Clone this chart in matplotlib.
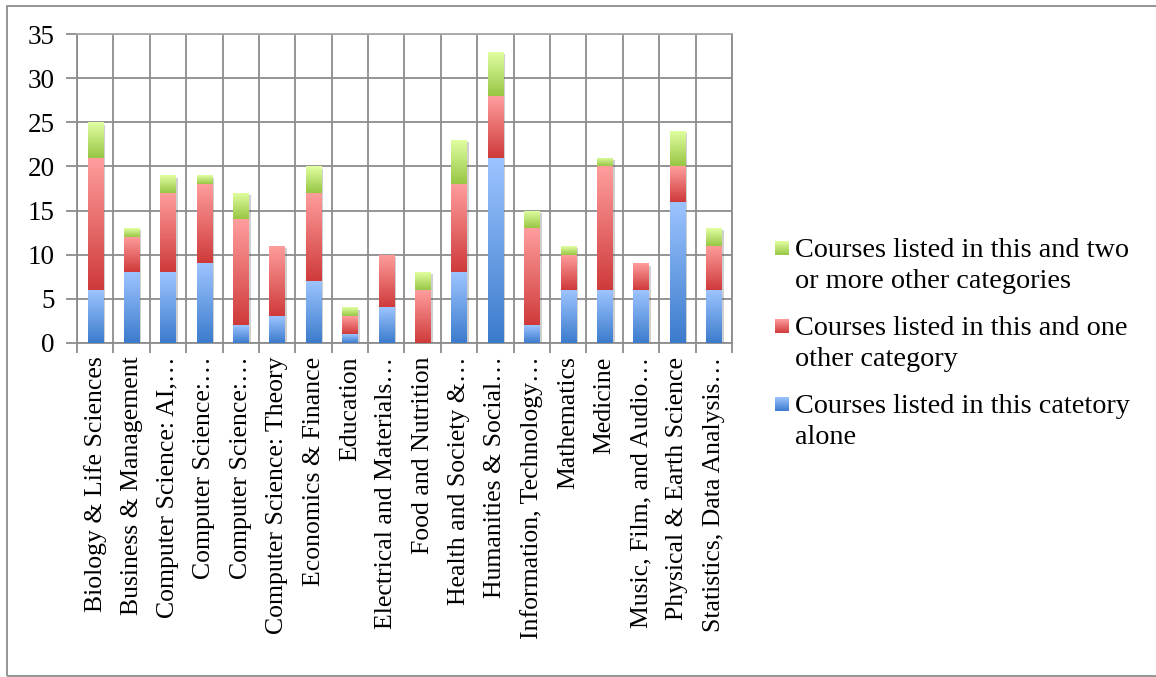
import numpy as np
import matplotlib
matplotlib.use("Agg")
import matplotlib.pyplot as plt
from matplotlib.colors import LinearSegmentedColormap
from matplotlib.patches import Rectangle
import matplotlib.patheffects as pe

categories = [
    "Biology & Life Sciences", "Business & Management", "Computer Science: AI,…",
    "Computer Science:…", "Computer Science:…", "Computer Science: Theory",
    "Economics & Finance", "Education", "Electrical and Materials…",
    "Food and Nutrition", "Health and Society &…", "Humanities & Social…",
    "Information, Technology…", "Mathematics", "Medicine",
    "Music, Film, and Audio…", "Physical & Earth Science", "Statistics, Data Analysis…",
]
alone = [6, 8, 8, 9, 2, 3, 7, 1, 4, 0, 8, 21, 2, 6, 6, 6, 16, 6]
one_other = [15, 4, 9, 9, 12, 8, 10, 2, 6, 6, 10, 7, 11, 4, 14, 3, 4, 5]
two_or_more = [4, 1, 2, 1, 3, 0, 3, 1, 0, 2, 5, 5, 2, 1, 1, 0, 4, 2]

series_names = [
    "Courses listed in this catetory\nalone",
    "Courses listed in this and one\nother category",
    "Courses listed in this and two\nor more other categories",
]
# (bottom colour, top colour) for each series gradient
gradients = [
    ("#3b7bcc", "#9dc4ff"),
    ("#cf3a3a", "#ff9e9e"),
    ("#97c644", "#e2ffa2"),
]

W, H = 1156, 677
FONT = "Liberation Serif"
GRID = "#8c8c8c"

plt.rcParams["font.family"] = [FONT, "DejaVu Serif"]

fig = plt.figure(figsize=(W / 100, H / 100), dpi=100)
ax = fig.add_axes([77 / W, 1 - 342.7 / H, (732 - 77) / W, (342.7 - 34.3) / H])

n = len(categories)
x = np.arange(n)
width = 0.42
bottoms = np.zeros(n)
ramp = np.linspace(0, 1, 256).reshape(-1, 1)

for vals, (c0, c1) in zip([alone, one_other, two_or_more], gradients):
    vals = np.array(vals, dtype=float)
    cmap = LinearSegmentedColormap.from_list("g", [c0, c1])
    bars = ax.bar(x, vals, width, bottom=bottoms, color=c1, linewidth=0, zorder=2)
    for b, v in zip(bars, vals):
        if v <= 0:
            continue
        b.set_path_effects([pe.SimplePatchShadow(offset=(1.6, -1.6), shadow_rgbFace="#555555", alpha=0.28),
                            pe.Normal()])
        bx, by = b.get_x(), b.get_y()
        im = ax.imshow(ramp, cmap=cmap, origin="lower", aspect="auto", interpolation="bicubic",
                       extent=[bx, bx + b.get_width(), by, by + b.get_height()], zorder=3)
        im.set_clip_path(b)
    bottoms += vals

ax.set_xlim(-0.5, n - 0.5)
ax.set_ylim(0, 35)
ax.set_yticks(range(0, 36, 5))
ax.set_xticks(x)
ax.set_xticklabels(categories, rotation=90, fontsize=18.5, va="top", ha="center")
ax.set_xticks(np.arange(n + 1) - 0.5, minor=True)
ax.tick_params(axis="x", which="major", length=0, pad=10)
ax.tick_params(axis="x", which="minor", length=7, width=1.3, color=GRID)
ax.tick_params(axis="y", length=8, width=1.3, color=GRID, labelsize=19.5, pad=8)
ax.grid(axis="x", which="minor", color=GRID, linewidth=1.3, zorder=0)
ax.grid(axis="y", which="major", color=GRID, linewidth=1.3, zorder=0)
ax.set_axisbelow(True)
for side in ["left", "bottom", "top", "right"]:
    ax.spines[side].set_color(GRID)
    ax.spines[side].set_linewidth(1.3)
ax.spines["top"].set_color("#a8a8a8")


def fx(px):
    return px / W


def fy(py):
    return 1 - py / H


# legend, top entry first
legend_top = [248, 326, 404]
for name, (c0, c1), yc in zip(series_names[::-1], gradients[::-1], legend_top):
    sw = fig.add_axes([fx(775), fy(yc + 7), 14 / W, 14 / H])
    sw.imshow(ramp, cmap=LinearSegmentedColormap.from_list("g", [c0, c1]), origin="lower",
              aspect="auto", interpolation="bicubic")
    sw.set_axis_off()
    fig.text(fx(795), fy(yc - 10), name, fontsize=20.3, va="top", ha="left", linespacing=1.32)

# outer chart frame
fig.patches.append(Rectangle((fx(6.5), fy(675.5)), (1160 - 6.5) / W, (675.5 - 5.5) / H,
                             transform=fig.transFigure, fill=False, edgecolor="#8c8c8c",
                             linewidth=1.3, zorder=0))

fig.savefig("out.png", dpi=100)
